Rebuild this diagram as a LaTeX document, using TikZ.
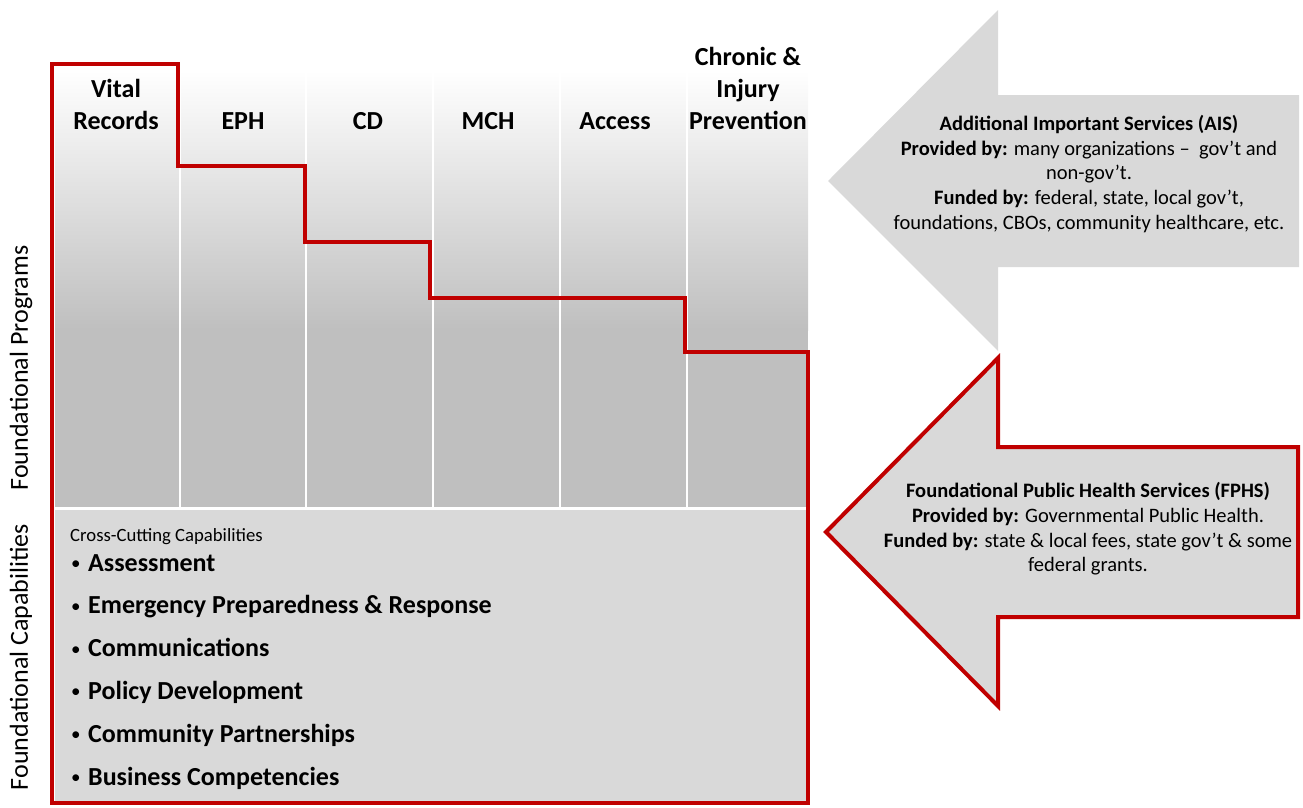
\documentclass[tikz,border=0pt]{standalone}
\usepackage{fontspec}
\setmainfont{Carlito}
\usetikzlibrary{positioning}
\definecolor{fphsred}{HTML}{C00000}
\definecolor{boxgray}{HTML}{D9D9D9}
\definecolor{colgray}{HTML}{BFBFBF}

\begin{document}
\begin{tikzpicture}[x=1pt,y=-1pt,
    colhead/.style={font=\bfseries\fontsize{26}{32}\selectfont, align=center,
      inner sep=0pt, text depth=0pt, anchor=south},
    sidelabel/.style={font=\fontsize{26}{30}\selectfont, rotate=90, inner sep=0pt},
    capitem/.style={font=\bfseries\fontsize{26}{30}\selectfont, anchor=base west, inner sep=0pt},
    arrowtext/.style={font=\fontsize{20.5}{24.6}\selectfont, align=center, inner sep=0pt},
    redline/.style={draw=fphsred, line width=4pt, line join=miter}]
    \useasboundingbox (0,0) rectangle (1303,807);
    % program columns
    \shade[top color=white, bottom color=colgray] (55,70) rectangle (808,330);
    \fill[colgray] (55,330) rectangle (808,507);
    \foreach \x in {180,306,433,560,687}
      \draw[white, line width=2pt] (\x,70) -- (\x,507);
    \foreach \name/\x/\txt in {vital/116/{Vital\\Records}, eph/243/EPH, cd/368/CD,
        mch/488/MCH, access/615/Access, chronic/748/{Chronic \&\\Injury\\Prevention}}
      \node[colhead] (\name) at (\x,130) {\txt};
    % capabilities
    \fill[boxgray] (55,510) rectangle (808,803);
    \node[anchor=base west, inner sep=0pt, font=\fontsize{18.7}{22}\selectfont]
      (cross) at (70,541) {Cross-Cutting Capabilities};
    \foreach \name/\txt [count=\i] in {assess/Assessment,
        emerg/Emergency Preparedness \& Response, comm/Communications,
        policy/Policy Development, partner/Community Partnerships,
        business/Business Competencies}
      \node[capitem] (\name) at (70,{571+42.8*(\i-1)})
        {\makebox[18pt][l]{\hspace{1pt}\mdseries\fontsize{19}{19}\selectfont\raisebox{1.5pt}{\textbullet}}\txt};
    % side labels
    \node[sidelabel] (progs) at (21,368) {Foundational Programs};
    \node[sidelabel] (caps) at (21,657) {Foundational Capabilities};
    % red outline
    \draw[redline] (52,64) -- (178,64) -- (178,166) -- (305,166) -- (305,242)
      -- (430,242) -- (430,298) -- (685,298) -- (685,352) -- (808,352)
      -- (808,803) -- (52,803) -- cycle;
    % AIS arrow
    \fill[boxgray] (828,181) -- (998,10) -- (998,95) -- (1299,95) -- (1299,267)
      -- (998,267) -- (998,351) -- cycle;
    \node[arrowtext] (ais) at (1089,174) {\textbf{Additional Important Services (AIS)}\\
      \textbf{Provided by:} many organizations –\ \ gov’t and\\non-gov’t.\\
      \textbf{Funded by:} federal, state, local gov’t,\\
      foundations, CBOs, community healthcare, etc.};
    % FPHS arrow
    \filldraw[fill=boxgray, redline] (826,532) -- (998,358) -- (998,447) -- (1298,447)
      -- (1298,617) -- (998,617) -- (998,706) -- cycle;
    \node[arrowtext] (fphs) at (1088,529) {\textbf{Foundational Public Health Services (FPHS)}\\
      \textbf{Provided by:} Governmental Public Health.\\
      \textbf{Funded by:} state \& local fees, state gov’t \& some\\
      federal grants.};
\end{tikzpicture}
\end{document}
